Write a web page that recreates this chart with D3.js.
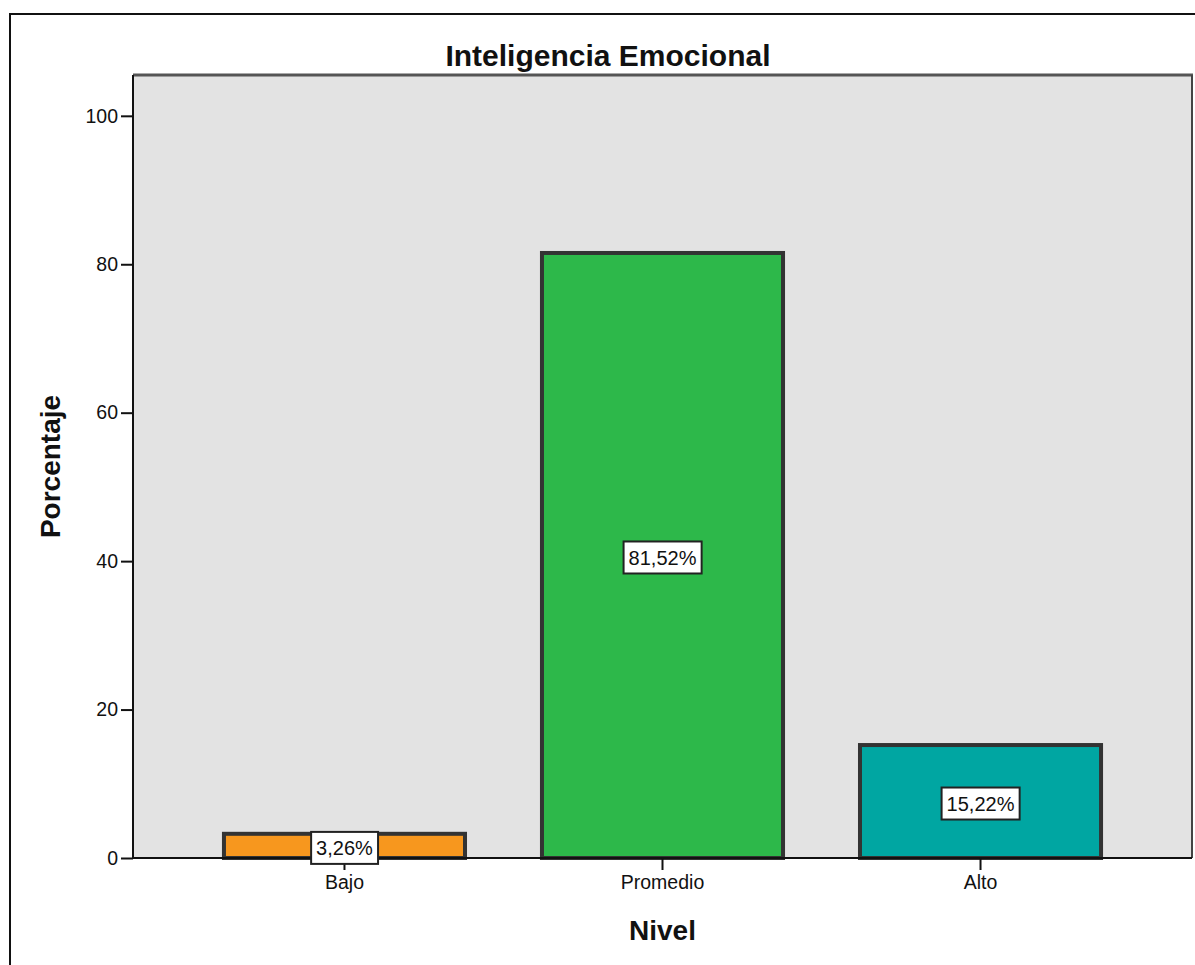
<!DOCTYPE html>
<html>
<head>
<meta charset="utf-8">
<script src="https://cdn.jsdelivr.net/npm/d3@7"></script>
<style>
  html, body { margin: 0; padding: 0; background: #ffffff; }
  svg { display: block; font-family: "Liberation Sans", Arial, sans-serif; }
</style>
</head>
<body>
<svg id="chart" width="1195" height="965"></svg>
<script>
// Distribution of emotional intelligence levels (percent of respondents)
const categories = ["Bajo", "Promedio", "Alto"];
const percentages = [3.26, 81.52, 15.22];
const valueLabels = ["3,26%", "81,52%", "15,22%"];
const barColors = ["#F7971E", "#2DB84A", "#00A6A2"];
const yTicks = [0, 20, 40, 60, 80, 100];

const svg = d3.select("#chart");
const plot = { left: 133, right: 1192, top: 75, bottom: 858 };

// outer frame of the output panel
svg.append("rect")
  .attr("x", 10).attr("y", 14)
  .attr("width", 1200).attr("height", 970)
  .attr("fill", "none").attr("stroke", "#111").attr("stroke-width", 2);

const x = d3.scaleBand()
  .domain(categories)
  .range([plot.left, plot.right])
  .paddingInner(0.242)
  .paddingOuter(0.286);

const y = d3.scaleLinear()
  .domain([0, 105.5])
  .range([plot.bottom, plot.top]);

// plot background
svg.append("rect")
  .attr("x", plot.left).attr("y", plot.top)
  .attr("width", plot.right - plot.left)
  .attr("height", plot.bottom - plot.top)
  .attr("fill", "#E3E3E3");

// plot borders: thick top, thin right
svg.append("line")
  .attr("x1", plot.left).attr("x2", plot.right + 1)
  .attr("y1", plot.top).attr("y2", plot.top)
  .attr("stroke", "#555").attr("stroke-width", 3);
svg.append("line")
  .attr("x1", plot.right).attr("x2", plot.right)
  .attr("y1", plot.top).attr("y2", plot.bottom)
  .attr("stroke", "#444").attr("stroke-width", 2);

// bars
svg.append("g").selectAll("rect")
  .data(categories)
  .join("rect")
  .attr("x", d => x(d))
  .attr("y", (d, i) => y(percentages[i]))
  .attr("width", x.bandwidth())
  .attr("height", (d, i) => y(0) - y(percentages[i]))
  .attr("fill", (d, i) => barColors[i])
  .attr("stroke", "#333")
  .attr("stroke-width", 4);

// axes
const yAxis = svg.append("g")
  .attr("transform", `translate(${plot.left},0)`)
  .call(d3.axisLeft(y).tickValues(yTicks).tickSize(12).tickPadding(3).tickSizeOuter(0));
const xAxis = svg.append("g")
  .attr("transform", `translate(0,${plot.bottom})`)
  .call(d3.axisBottom(x).tickSize(12).tickPadding(5).tickSizeOuter(0));

[yAxis, xAxis].forEach(g => {
  g.select(".domain").attr("stroke", "#111").attr("stroke-width", 2);
  g.selectAll(".tick line").attr("stroke", "#111").attr("stroke-width", 2);
  g.selectAll(".tick text")
    .attr("fill", "#111")
    .style("font-family", "'Liberation Sans', Arial, sans-serif")
    .style("font-size", "19.5px");
});
yAxis.select(".domain").attr("d", `M0,${plot.bottom}V${plot.top}`);
xAxis.select(".domain").attr("d", `M${plot.left},0H${plot.right}`);

// value labels centred in each bar
const labels = svg.append("g").selectAll("g")
  .data(categories)
  .join("g")
  .attr("transform", (d, i) => `translate(${x(d) + x.bandwidth() / 2},${y(percentages[i] / 2) + 2})`);
labels.append("text")
  .attr("text-anchor", "middle")
  .attr("dy", "0.36em")
  .attr("fill", "#111")
  .style("font-size", "20px")
  .text((d, i) => valueLabels[i]);
labels.each(function () {
  const g = d3.select(this);
  const bb = g.select("text").node().getBBox();
  g.insert("rect", "text")
    .attr("x", bb.x - 5).attr("y", -16)
    .attr("width", bb.width + 10).attr("height", 32)
    .attr("fill", "#fff")
    .attr("stroke", "#222").attr("stroke-width", 2);
});

// titles
svg.append("text")
  .attr("x", 608).attr("y", 66)
  .attr("text-anchor", "middle")
  .attr("font-weight", "bold")
  .style("font-size", "30px")
  .attr("fill", "#111")
  .text("Inteligencia Emocional");

svg.append("text")
  .attr("x", (plot.left + plot.right) / 2).attr("y", 940)
  .attr("text-anchor", "middle")
  .attr("font-weight", "bold")
  .style("font-size", "28px")
  .attr("fill", "#111")
  .text("Nivel");

svg.append("text")
  .attr("transform", `translate(60,${(plot.top + plot.bottom) / 2}) rotate(-90)`)
  .attr("text-anchor", "middle")
  .attr("font-weight", "bold")
  .style("font-size", "28px")
  .attr("fill", "#111")
  .text("Porcentaje");
</script>
</body>
</html>
